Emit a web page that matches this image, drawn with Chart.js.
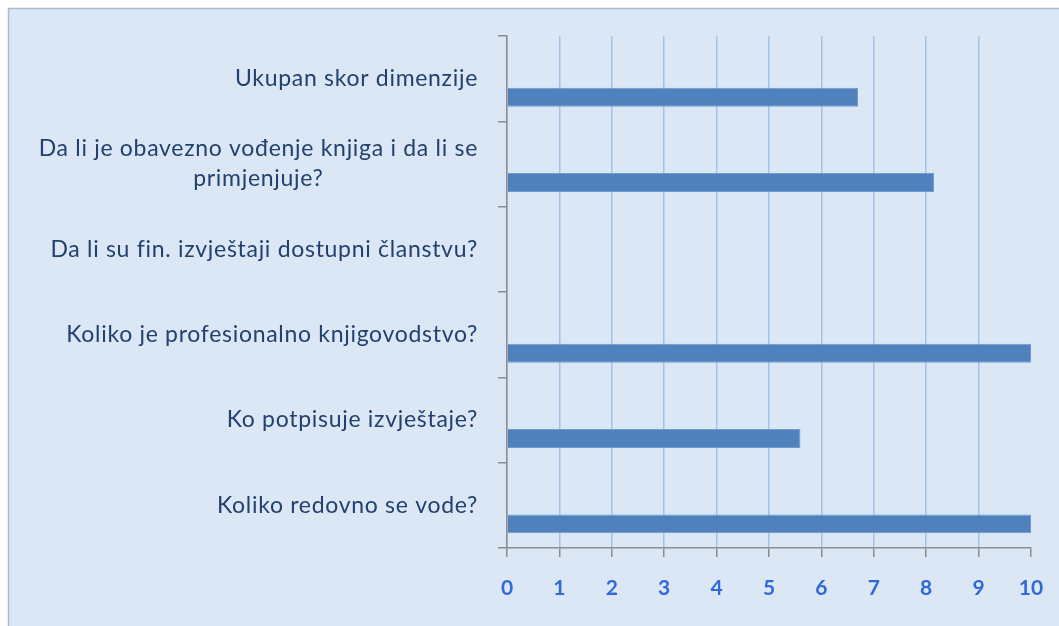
<!DOCTYPE html>
<html>
<head>
<meta charset="utf-8">
<script src="https://cdn.jsdelivr.net/npm/chart.js@4.4.0/dist/chart.umd.min.js"></script>
<style>
  html, body { margin: 0; padding: 0; background: #fff; }
  #wrap { width: 1059px; height: 626px; }
</style>
</head>
<body>
<div id="wrap"><canvas id="chart" width="1059" height="626"></canvas></div>
<script>
// category labels, top to bottom (multi-line where the picture wraps)
const categories = [
    ['Ukupan skor dimenzije'],
    ['Da li je obavezno vođenje knjiga i da li se', 'primjenjuje?'],
    ['Da li su fin. izvještaji dostupni članstvu?'],
    ['Koliko je profesionalno knjigovodstvo?'],
    ['Ko potpisuje izvještaje?'],
    ['Koliko redovno se vode?']
];
const scores = [6.7, 8.15, null, 10, 5.6, 10];
// empty series that takes the upper half of each band, like in the original
const emptySeries = [null, null, null, null, null, null];
const xTicks = [0, 1, 2, 3, 4, 5, 6, 7, 8, 9, 10];

const LABEL_RIGHT = 478;

const panelBackground = {
    id: 'panelBackground',
    beforeDraw(chart) {
        const { ctx, width, height } = chart;
        ctx.save();
        ctx.fillStyle = '#ffffff';
        ctx.fillRect(0, 0, width, height);
        ctx.fillStyle = '#dce7f5';
        ctx.fillRect(8, 8, width - 8, height - 8);
        ctx.strokeStyle = '#a9bad0';
        ctx.lineWidth = 1.5;
        ctx.beginPath();
        ctx.moveTo(8.5, height);
        ctx.lineTo(8.5, 8.5);
        ctx.lineTo(width, 8.5);
        ctx.stroke();
        ctx.restore();
    }
};

// draws the category labels right-aligned as a block, lines centred within it
const categoryLabels = {
    id: 'categoryLabels',
    afterDraw(chart) {
        const ctx = chart.ctx;
        const yScale = chart.scales.y;
        ctx.save();
        ctx.font = '23px Lato';
        ctx.letterSpacing = '0.7px';
        ctx.fillStyle = '#22416e';
        ctx.textAlign = 'center';
        ctx.textBaseline = 'middle';
        categories.forEach((lines, i) => {
            const yc = yScale.getPixelForValue(i);
            const maxW = Math.max(...lines.map(l => ctx.measureText(l).width));
            const cx = LABEL_RIGHT - maxW / 2;
            lines.forEach((line, j) => {
                ctx.fillText(line, cx, yc + (j - (lines.length - 1) / 2) * 30);
            });
        });
        ctx.restore();
    }
};

const ctx = document.getElementById('chart').getContext('2d');
new Chart(ctx, {
    type: 'bar',
    data: {
        labels: categories.map(l => l.join(' ')),
        datasets: [{
            data: emptySeries,
            backgroundColor: '#4f81bd'
        }, {
            data: scores,
            backgroundColor: '#4f81bd',
            borderColor: '#729bcd',
            borderWidth: 1
        }]
    },
    options: {
        indexAxis: 'y',
        responsive: false,
        animation: false,
        layout: {
            padding: { top: 36, right: 28, bottom: 0, left: 0 }
        },
        datasets: {
            bar: {
                categoryPercentage: 0.87,
                barPercentage: 0.51
            }
        },
        scales: {
            x: {
                min: 0,
                max: 10,
                afterBuildTicks: scale => {
                    scale.ticks = xTicks.map(v => ({ value: v }));
                },
                ticks: {
                    color: '#2f6ad8',
                    font: { family: 'Lato', size: 21, weight: 'bold' },
                    padding: 19,
                    maxRotation: 0
                },
                grid: {
                    color: c => (c.tick && c.tick.value === 10) ? 'rgba(0,0,0,0)' : '#a3c2ea',
                    tickColor: '#8c8c8c',
                    tickLength: 9,
                    lineWidth: 1.5
                },
                border: { color: '#8c8c8c', width: 1.5 },
                afterFit: scale => {
                    scale.height = 78;
                    scale.paddingLeft = 0;
                    scale.paddingRight = 0;
                }
            },
            y: {
                ticks: { display: false },
                grid: {
                    drawOnChartArea: false,
                    color: '#8c8c8c',
                    tickLength: 9,
                    lineWidth: 1.5,
                    offset: true
                },
                border: { color: '#8c8c8c', width: 1.5 },
                afterFit: scale => { scale.width = 507; }
            }
        },
        plugins: {
            legend: { display: false },
            tooltip: { enabled: false }
        }
    },
    plugins: [panelBackground, categoryLabels]
});
</script>
</body>
</html>
